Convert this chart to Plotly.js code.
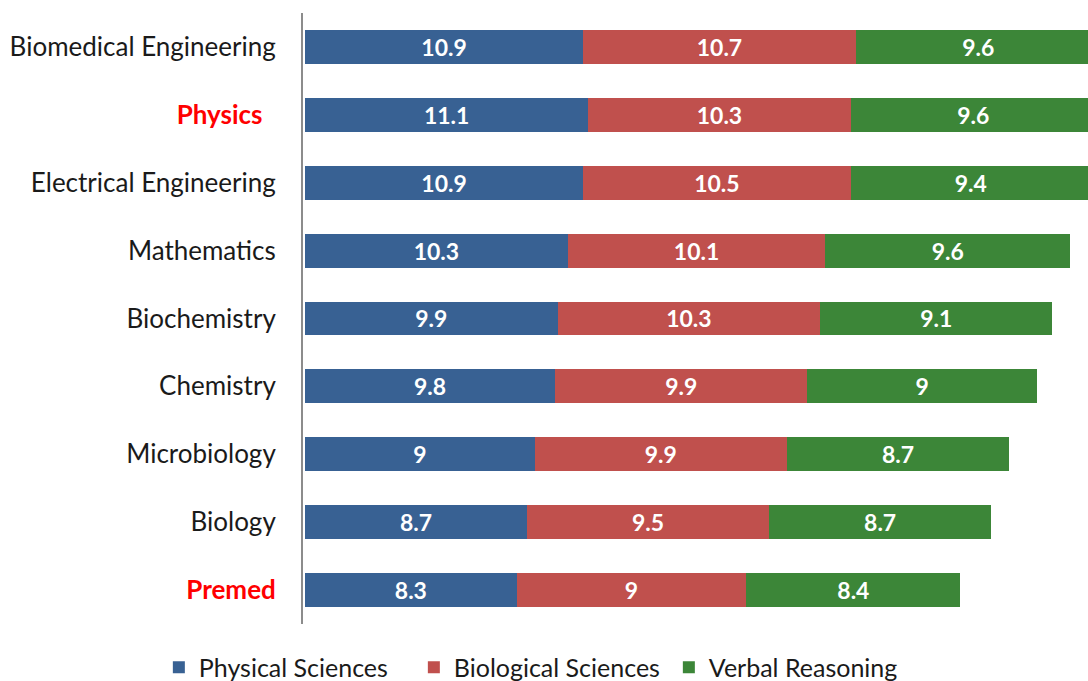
<!DOCTYPE html>
<html><head><meta charset="utf-8">
<script src="https://cdn.plot.ly/plotly-3.0.1.min.js"></script>
<style>html,body{margin:0;padding:0;background:#fff;}#chart{width:1088px;height:681px;}</style>
</head><body><div id="chart"></div>
<script>
const categories = ["Biomedical Engineering","Physics","Electrical Engineering","Mathematics","Biochemistry","Chemistry","Microbiology","Biology","Premed"];
const tickLabels = ["Biomedical Engineering","<b><span style=\"color:#ff0000\">Physics</span></b>  ","Electrical Engineering","Mathematics","Biochemistry","Chemistry","Microbiology","Biology","<b><span style=\"color:#ff0000\">Premed</span></b>"];
const physical = [10.9,11.1,10.9,10.3,9.9,9.8,9,8.7,8.3];
const biological = [10.7,10.3,10.5,10.1,10.3,9.9,9.9,9.5,9];
const verbal = [9.6,9.6,9.4,9.6,9.1,9,8.7,8.7,8.4];
const seriesNames = ["Physical Sciences","Biological Sciences","Verbal Reasoning"];
const colors = ["#386193","#c0504d","#3c8638"];
const series = [physical, biological, verbal];
const traces = series.map((vals,i)=>({
  type:'bar', orientation:'h', name:seriesNames[i], y:categories, x:vals,
  text:vals.map(v=>String(v)), textposition:'inside', insidetextanchor:'middle', textangle:0,
  textfont:{family:'Lato, sans-serif', size:23, color:'#ffffff', weight:'bold'},
  marker:{color:colors[i], line:{width:0}}, hoverinfo:'skip'
}));
const layout = {
  width:1088, height:681,
  margin:{l:303, r:0, t:13, b:57},
  barmode:'stack', bargap:0.5,
  paper_bgcolor:'#fff', plot_bgcolor:'#fff',
  xaxis:{range:[-0.08,30.7], visible:false, fixedrange:true},
  yaxis:{type:'category', autorange:'reversed', tickmode:'array', tickvals:categories, ticktext:tickLabels,
    showline:true, linecolor:'#8c8c8c', linewidth:2, ticks:'', showgrid:false, zeroline:false,
    ticklabelstandoff:20, tickfont:{family:'Lato, sans-serif', size:26, color:'#1a1a1a'}},
  showlegend:true,
  legend:{orientation:'h', xref:'container', yref:'container', x:0.146, xanchor:'left', y:0.02, yanchor:'middle',
    entrywidth:210, entrywidthmode:'pixels',
    font:{family:'Lato, sans-serif', size:25, color:'#1a1a1a'}, itemwidth:30, traceorder:'normal'},
  uniformtext:{mode:false}
};
Plotly.newPlot('chart', traces, layout, {staticPlot:true});
</script></body></html>
